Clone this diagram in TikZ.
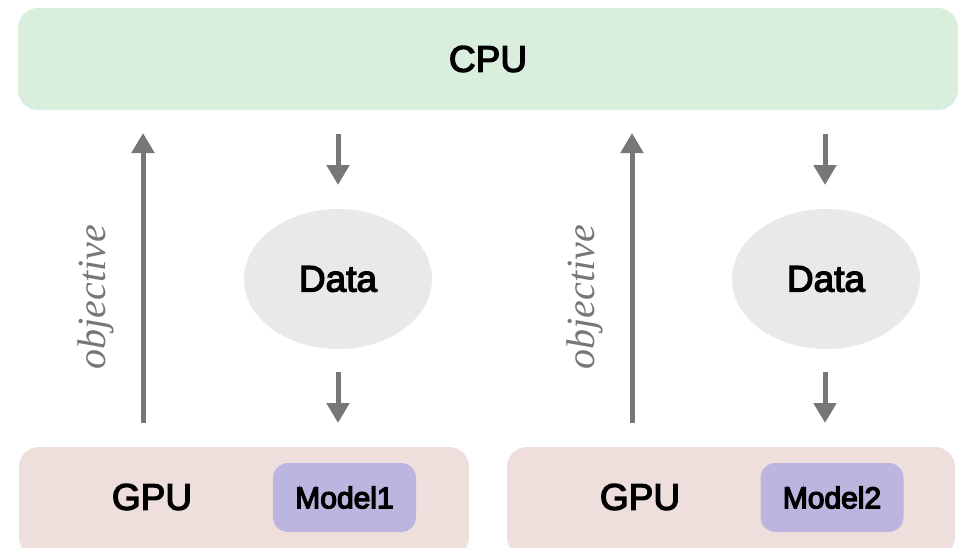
\documentclass[tikz,border=0pt]{standalone}
\usepackage{fontspec}
\setmainfont{Liberation Sans}
\newfontfamily\objfont{Liberation Serif}
\newcommand{\medtxt}[1]{\special{pdf:literal 2 Tr 1.3 w}#1\special{pdf:literal 0 Tr}}
\usetikzlibrary{arrows.meta,shapes.geometric}
\definecolor{cpugreen}{HTML}{DAEEDD}
\definecolor{gpupink}{HTML}{EEDFDC}
\definecolor{modelpurple}{HTML}{BCB5E0}
\definecolor{datagray}{HTML}{E7EAE9}
\definecolor{arrowgray}{HTML}{777777}
\tikzset{
  cpubox/.style={fill=cpugreen, rounded corners=20pt, minimum width=940pt, minimum height=102pt, inner sep=0pt, font=\fontsize{37}{40}\selectfont},
  gpubox/.style={fill=gpupink, rounded corners=20pt, minimum width=450pt, minimum height=110pt, inner sep=0pt},
  gputext/.style={inner sep=0pt, font=\fontsize{37}{40}\selectfont},
  modelbox/.style={fill=modelpurple, rounded corners=15pt, minimum width=143pt, minimum height=69pt, inner sep=0pt, font=\fontsize{30}{32}\selectfont},
  databox/.style={ellipse, fill=datagray, minimum width=188pt, minimum height=140pt, inner sep=0pt, font=\fontsize{37}{40}\selectfont},
  flow/.style={draw=arrowgray, line width=5pt, -{Triangle[length=20pt,width=22pt]}},
  objlabel/.style={text=arrowgray, rotate=90, inner sep=0pt, font=\objfont\itshape\fontsize{40}{42}\selectfont}
}
\begin{document}
\begin{tikzpicture}[x=1pt,y=-1pt]
\useasboundingbox (0,0) rectangle (965,547);
\node[cpubox] (cpu) at (488,59) {\medtxt{CPU}};
% left column
\node[gpubox] (gpu1) at (244,502) {};
\node[gputext] (g1) at (152,497) {\medtxt{GPU}};
\node[modelbox] (m1) at (344.5,497.5) {\medtxt{Model1}};
\node[databox] (d1) at (338,279) {\medtxt{Data}};
\coordinate (o1s) at (143,423);
\coordinate (o1e) at (143,133);
\draw[flow] (o1s) -- (o1e);
\node[objlabel] (ob1) at (96,297) {objective};
\coordinate (a1s) at (338,134);
\coordinate (a1e) at (338,185);
\draw[flow] (a1s) -- (a1e);
\coordinate (b1s) at (338,372);
\coordinate (b1e) at (338,423);
\draw[flow] (b1s) -- (b1e);
% right column
\node[gpubox, minimum width=448pt] (gpu2) at (731,502) {};
\node[gputext] (g2) at (640,497) {\medtxt{GPU}};
\node[modelbox] (m2) at (832,497.5) {\medtxt{Model2}};
\node[databox] (d2) at (826,279) {\medtxt{Data}};
\coordinate (o2s) at (632,423);
\coordinate (o2e) at (632,133);
\draw[flow] (o2s) -- (o2e);
\node[objlabel] (ob2) at (585,297) {objective};
\coordinate (a2s) at (825,134);
\coordinate (a2e) at (825,185);
\draw[flow] (a2s) -- (a2e);
\coordinate (b2s) at (825,372);
\coordinate (b2e) at (825,423);
\draw[flow] (b2s) -- (b2e);
\end{tikzpicture}
\end{document}
